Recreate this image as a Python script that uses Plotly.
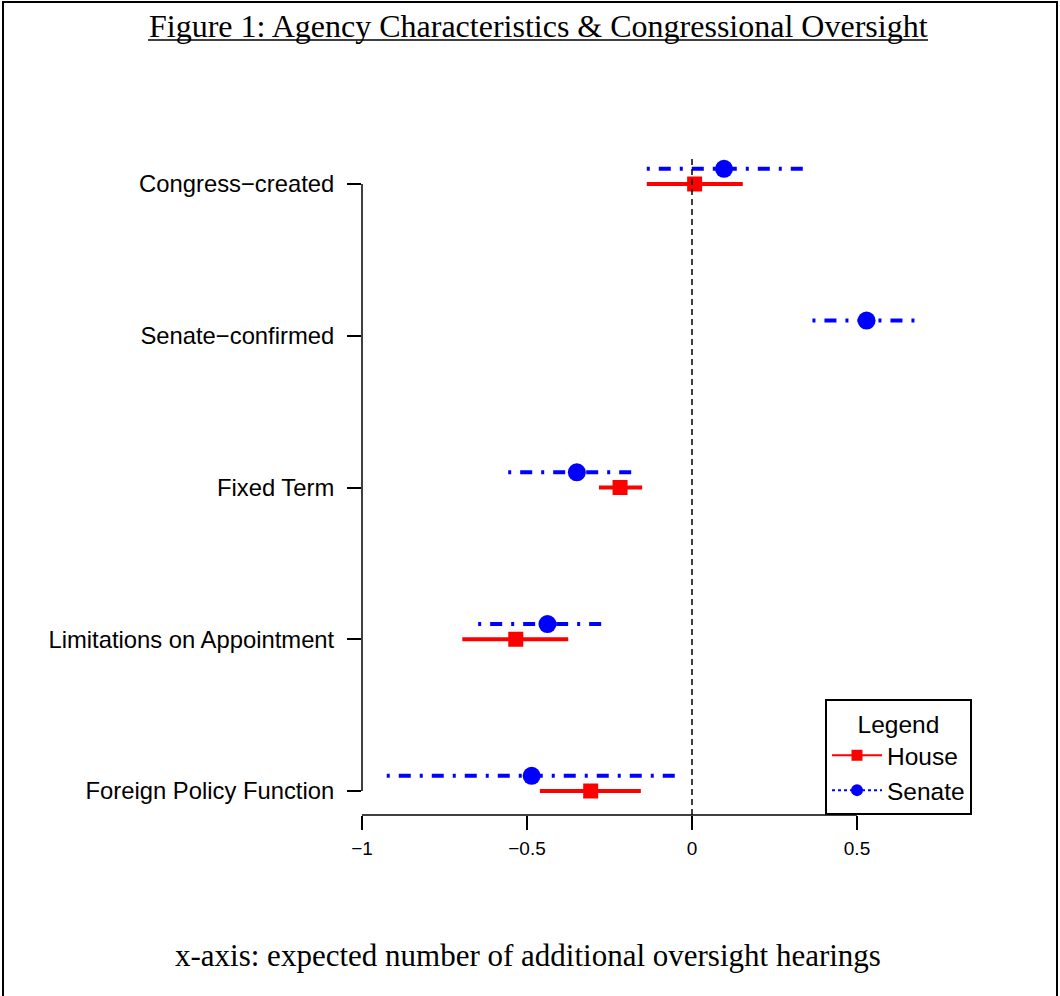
import plotly.graph_objects as go

# ---------------- data ----------------
categories = ["Congress\u2212created", "Senate\u2212confirmed", "Fixed Term",
              "Limitations on Appointment", "Foreign Policy Function"]

house_est = [0.008, None, -0.218, -0.534, -0.307]
house_lo = [-0.137, None, -0.282, -0.696, -0.461]
house_hi = [0.154, None, -0.151, -0.375, -0.155]

senate_est = [0.097, 0.529, -0.349, -0.438, -0.486]
senate_lo = [-0.137, 0.365, -0.557, -0.648, -0.925]
senate_hi = [0.336, 0.676, -0.180, -0.272, -0.046]

x_ticks = [-1, -0.5, 0, 0.5]
x_tick_labels = ["\u22121", "\u22120.5", "0", "0.5"]

title_text = "Figure 1: Agency Characteristics & Congressional Oversight"
footer_text = "x-axis: expected number of additional oversight hearings"

# ---------------- layout geometry (page pixels; body margin removed) ----------------
W, H = 1060, 996
L, R, T, B = 362, 972, 158, 815
PW, PH = R - L, B - T
X_MIN, X_MAX = -1.0, -1.0 + (R - L) / 330.0
SPACING = 151.75
Y_TOP = 1 - (184 - T) / SPACING
Y_BOT = 5 + (B - 791) / SPACING
SENATE_OFFSET = -0.1

def px(xp):
    return (xp - L) / PW

def py(yp):
    return (B - yp) / PH

pos = list(range(1, len(categories) + 1))

def segments(lo, hi, offset):
    xs, ys = [], []
    for p, a, b in zip(pos, lo, hi):
        if a is None:
            continue
        xs += [a, b, None]
        ys += [p + offset, p + offset, None]
    return xs, ys

RED = "#FF0000"
BLUE = "#0000FF"

fig = go.Figure()

hx, hy = segments(house_lo, house_hi, 0.0)
fig.add_trace(go.Scatter(x=hx, y=hy, mode="lines", line=dict(color=RED, width=4),
                         showlegend=False, hoverinfo="skip"))
sx, sy = segments(senate_lo, senate_hi, SENATE_OFFSET)
fig.add_trace(go.Scatter(x=sx, y=sy, mode="lines",
                         line=dict(color=BLUE, width=4, dash="3px,9px,12px,9px"),
                         showlegend=False, hoverinfo="skip"))

fig.add_trace(go.Scatter(x=house_est, y=[p for p in pos], mode="markers",
                         marker=dict(symbol="square", size=15, color=RED),
                         showlegend=False))
fig.add_trace(go.Scatter(x=senate_est, y=[p + SENATE_OFFSET for p in pos], mode="markers",
                         marker=dict(symbol="circle", size=18, color=BLUE),
                         showlegend=False))

# legend-only traces
fig.add_trace(go.Scatter(x=[None], y=[None], mode="lines+markers", name="House",
                         line=dict(color=RED, width=2),
                         marker=dict(symbol="square", size=11, color=RED)))
fig.add_trace(go.Scatter(x=[None], y=[None], mode="lines+markers", name="Senate",
                         line=dict(color=BLUE, width=2, dash="dot"),
                         marker=dict(symbol="circle", size=12, color=BLUE)))

shapes = [
    # zero reference line
    dict(type="line", xref="x", yref="paper", x0=0, x1=0, y0=0, y1=1,
         line=dict(color="black", width=1.5, dash="6px,4px")),
    # y axis line
    dict(type="line", xref="paper", yref="y", x0=0, x1=0, y0=pos[0], y1=pos[-1],
         line=dict(color="black", width=1.5)),
    # x axis line
    dict(type="line", xref="x", yref="paper", x0=x_ticks[0], x1=x_ticks[-1], y0=0, y1=0,
         line=dict(color="black", width=1.5)),
    # title underline
    dict(type="line", xref="paper", yref="paper", x0=px(148), x1=px(928), y0=py(40), y1=py(40),
         line=dict(color="black", width=1.5)),
    # page frame (left, top, right)
    dict(type="line", xref="paper", yref="paper", x0=px(3), x1=px(3), y0=py(2), y1=py(996),
         line=dict(color="black", width=2)),
    dict(type="line", xref="paper", yref="paper", x0=px(2), x1=px(1058), y0=py(2), y1=py(2),
         line=dict(color="black", width=2)),
    dict(type="line", xref="paper", yref="paper", x0=px(1057), x1=px(1057), y0=py(2), y1=py(996),
         line=dict(color="black", width=2)),
]

annotations = [
    dict(text=title_text, xref="paper", yref="paper", x=px(538), y=py(26),
         showarrow=False, xanchor="center", yanchor="middle",
         font=dict(family="Liberation Serif", size=32, color="black")),
    dict(text=footer_text, xref="paper", yref="paper", x=px(528), y=py(955),
         showarrow=False, xanchor="center", yanchor="middle",
         font=dict(family="Liberation Serif", size=31, color="black")),
]

fig.update_layout(
    width=W, height=H,
    margin=dict(l=L, r=W - R, t=T, b=H - B, pad=0),
    paper_bgcolor="white", plot_bgcolor="white",
    font=dict(family="Liberation Sans, Arial", color="black"),
    xaxis=dict(range=[X_MIN, X_MAX], tickvals=x_ticks, ticktext=x_tick_labels,
               ticks="outside", ticklen=14, tickwidth=1.5, tickcolor="black",
               showline=False, showgrid=False, zeroline=False,
               tickfont=dict(size=19, color="black"), ticklabelstandoff=2),
    yaxis=dict(range=[Y_BOT, Y_TOP], tickvals=pos, ticktext=categories,
               ticks="outside", ticklen=14, tickwidth=1.5, tickcolor="black",
               showline=False, showgrid=False, zeroline=False,
               tickfont=dict(size=23.8, color="black"), ticklabelstandoff=8),
    shapes=shapes,
    annotations=annotations,
    legend=dict(x=1, y=0, xanchor="right", yanchor="bottom",
                bordercolor="black", borderwidth=2, bgcolor="white",
                font=dict(size=24.5, color="black"),
                title=dict(text="Legend", side="top center", font=dict(size=24.5)),
                tracegroupgap=0, itemwidth=50),
    showlegend=True,
)

fig.write_html("out.html", config={"displayModeBar": False},
               post_script="document.body.style.margin='0px';")
